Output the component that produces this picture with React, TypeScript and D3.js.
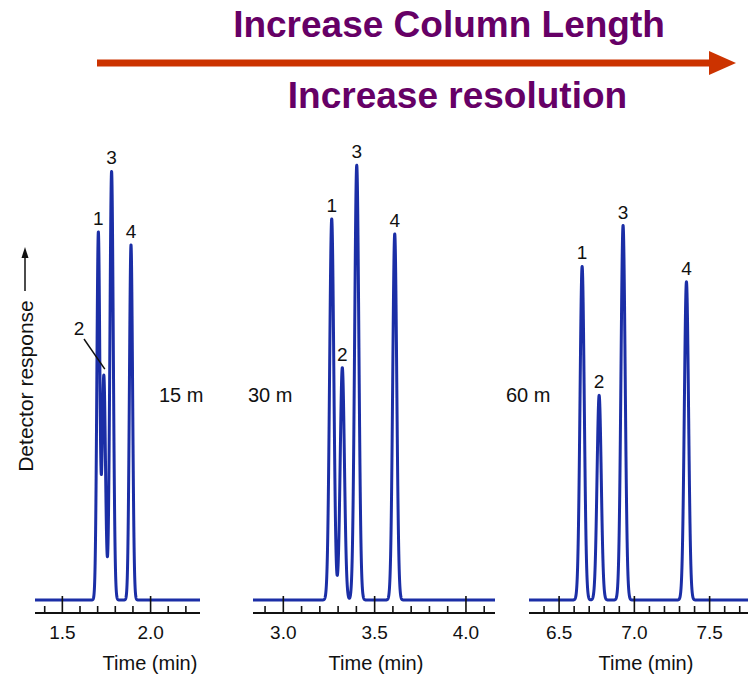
import React from "react";
import * as d3 from "d3";

// Column lengths compared in the three chromatograms
const columnLengths = ["15 m", "30 m", "60 m"];
const peakNames = ["1", "2", "3", "4"];

// Retention time (min), peak height (response units) and peak sigma (min)
const retention15 = [1.704, 1.735, 1.779, 1.889];
const height15 = [83.4, 51, 97.4, 80.7];
const sigma15 = [0.0085, 0.0095, 0.0096, 0.009];

const retention30 = [3.265, 3.323, 3.402, 3.61];
const height30 = [86.6, 52.8, 98.8, 83.2];
const sigma30 = [0.0115, 0.0115, 0.0115, 0.011];

const retention60 = [6.653, 6.766, 6.925, 7.346];
const height60 = [75.8, 46.5, 85.1, 72.3];
const sigma60 = [0.014, 0.014, 0.014, 0.014];

// Time axes (min)
const timeDomain15 = [1.345, 2.28];
const timeDomain30 = [2.834, 4.159];
const timeDomain60 = [6.3, 7.755];
const labeledTicks15 = [1.5, 2.0];
const labeledTicks30 = [3.0, 3.5, 4.0];
const labeledTicks60 = [6.5, 7.0, 7.5];
const minorTicks15 = [1.4, 1.6, 1.7, 1.8, 1.9, 2.1, 2.2];
const minorTicks30 = [2.9, 3.1, 3.2, 3.3, 3.4, 3.6, 3.7, 3.8, 3.9, 4.1];
const minorTicks60 = [6.4, 6.6, 6.7, 6.8, 6.9, 7.1, 7.2, 7.3, 7.4, 7.6, 7.7];

const FONT = "'Liberation Sans', Arial, Helvetica, sans-serif";
const TRACE = "#1b2ea6";

const W = 755;
const H = 675;
const BASELINE_Y = 600;
const AXIS_Y = 613;

const yScale = d3.scaleLinear().domain([0, 100]).range([BASELINE_Y, 160]);

type Panel = {
  name: string;
  rt: number[];
  h: number[];
  s: number[];
  domain: number[];
  range: [number, number];
  major: number[];
  minor: number[];
  nameX: number;
  titleX: number;
};

const panels: Panel[] = [
  { name: columnLengths[0], rt: retention15, h: height15, s: sigma15, domain: timeDomain15, range: [35, 200], major: labeledTicks15, minor: minorTicks15, nameX: 159, titleX: 150 },
  { name: columnLengths[1], rt: retention30, h: height30, s: sigma30, domain: timeDomain30, range: [253, 495], major: labeledTicks30, minor: minorTicks30, nameX: 248, titleX: 376 },
  { name: columnLengths[2], rt: retention60, h: height60, s: sigma60, domain: timeDomain60, range: [529, 748], major: labeledTicks60, minor: minorTicks60, nameX: 506, titleX: 646 },
];

function response(p: Panel, t: number) {
  let v = 0;
  for (let i = 0; i < p.rt.length; i++) {
    const z = (t - p.rt[i]) / p.s[i];
    v += p.h[i] * Math.exp(-0.5 * z * z);
  }
  return v;
}

function Chromatogram({ p, idx }: { p: Panel; idx: number }) {
  const x = d3.scaleLinear().domain(p.domain).range(p.range);
  const ts = d3.range(p.domain[0], p.domain[1], 0.0004).concat([p.domain[1]]);
  const line = d3
    .line<number>()
    .x((t) => x(t))
    .y((t) => yScale(response(p, t)));

  return (
    <g>
      <path d={line(ts) || ""} fill="none" stroke={TRACE} strokeWidth={3} strokeLinejoin="round" />
      <line x1={p.range[0]} x2={p.range[1]} y1={AXIS_Y} y2={AXIS_Y} stroke="#111" strokeWidth={2} />
      {p.minor.map((t) => (
        <line key={"m" + t} x1={x(t)} x2={x(t)} y1={AXIS_Y} y2={AXIS_Y - 7} stroke="#111" strokeWidth={1.6} />
      ))}
      {p.major.map((t) => (
        <g key={"M" + t}>
          <line x1={x(t)} x2={x(t)} y1={AXIS_Y} y2={AXIS_Y - 17} stroke="#111" strokeWidth={1.6} />
          <text x={x(t)} y={639} textAnchor="middle" fontSize={19} fontFamily={FONT} fill="#111">
            {d3.format(".1f")(t)}
          </text>
        </g>
      ))}
      <text x={p.titleX} y={670} textAnchor="middle" fontSize={20} fontFamily={FONT} fill="#111">
        Time (min)
      </text>
      <text x={p.nameX} y={402} fontSize={20} fontFamily={FONT} fill="#111">
        {p.name}
      </text>
      {p.rt.map((t, i) => {
        const top = yScale(response(p, t));
        // the second peak on the short column is labelled with a callout
        if (idx === 0 && i === 1) {
          return (
            <g key={"l" + i}>
              <text x={79} y={335} textAnchor="middle" fontSize={19} fontFamily={FONT} fill="#111">
                {peakNames[i]}
              </text>
              <line x1={84} y1={339} x2={x(t) + 1} y2={top - 6} stroke="#111" strokeWidth={1.5} />
            </g>
          );
        }
        return (
          <text key={"l" + i} x={x(t)} y={top - 7} textAnchor="middle" fontSize={19} fontFamily={FONT} fill="#111">
            {peakNames[i]}
          </text>
        );
      })}
    </g>
  );
}

export default function App() {
  return (
    <svg width={W} height={H} style={{ position: "absolute", left: 0, top: 0, background: "#fff" }}>
      <rect width={W} height={H} fill="#fff" />
      <text x={449} y={37} textAnchor="middle" fontSize={37} fontWeight="bold" fontFamily={FONT} fill="#660066">
        Increase Column Length
      </text>
      <line x1={97} x2={712} y1={63} y2={63} stroke="#cc3300" strokeWidth={7} />
      <polygon points="709,51 736,63 709,75" fill="#cc3300" />
      <text x={457.5} y={108} textAnchor="middle" fontSize={37} fontWeight="bold" fontFamily={FONT} fill="#660066">
        Increase resolution
      </text>

      <g transform="translate(33,386) rotate(-90)">
        <text x={0} y={0} textAnchor="middle" fontSize={21} fontFamily={FONT} fill="#111">
          Detector response
        </text>
      </g>
      <line x1={25} x2={25} y1={291} y2={256} stroke="#111" strokeWidth={1.5} />
      <polygon points="21.5,258 25,247 28.5,258" fill="#111" />

      {panels.map((p, i) => (
        <Chromatogram key={p.name} p={p} idx={i} />
      ))}
    </svg>
  );
}
